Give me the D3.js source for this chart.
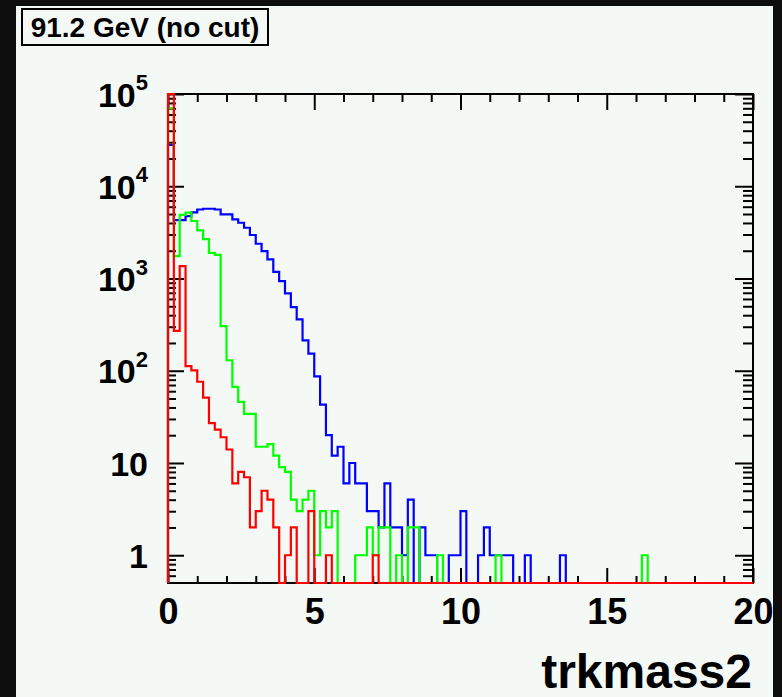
<!DOCTYPE html>
<html>
<head>
<meta charset="utf-8">
<script src="https://cdn.jsdelivr.net/npm/d3@7"></script>
<style>
  html, body { margin: 0; padding: 0; background: #0e0e0e; }
  svg { display: block; }
  text { font-family: "Liberation Sans", Arial, Helvetica, sans-serif; }
</style>
</head>
<body>
<svg id="chart" width="782" height="697"></svg>
<script>
// ---------------- data (bin contents, 100 bins of width 0.2 over 0..20) ----------------
const binWidth = 0.2;
const blueCounts = [
  28000, 4300, 4300, 4750, 5200, 5600, 5700, 5700, 5600, 4960,
  4960, 4375, 4020, 3550, 2960, 2380, 1980, 1610, 1180, 937,
  690, 490, 360, 213, 153, 87, 43, 20, 12, 15,
  6, 10, 6, 6, 3, 3, 2, 6, 2, 2,
  1, 4, 0, 2, 1, 1, 0, 0, 1, 1,
  3, 0, 0, 1, 2, 1, 1, 1, 1, 0,
  0, 1, 0, 0, 0, 0, 0, 1, 0, 0,
  0, 0, 0, 0, 0, 0, 0, 0, 0, 0,
  0, 0, 0, 0, 0, 0, 0, 0, 0, 0,
  0, 0, 0, 0, 0, 0, 0, 0, 0, 0
];
const greenCounts = [
  70000, 1750, 4900, 5170, 4200, 3330, 2670, 1900, 1800, 305,
  130, 67, 46, 34, 34, 15, 15, 16, 12, 9,
  8, 4, 3, 4, 5, 1, 3, 2, 3, 0,
  0, 0, 1, 1, 2, 1, 2, 2, 0, 1,
  0, 2, 2, 0, 0, 0, 1, 0, 0, 0,
  0, 0, 0, 0, 0, 0, 1, 0, 0, 0,
  0, 0, 0, 0, 0, 0, 0, 0, 0, 0,
  0, 0, 0, 0, 0, 0, 0, 0, 0, 0,
  0, 1, 0, 0, 0, 0, 0, 0, 0, 0,
  0, 0, 0, 0, 0, 0, 0, 0, 0, 0
];
const redCounts = [
  200000, 270, 1360, 112, 101, 76, 51, 27, 23, 19,
  14, 6, 8, 7, 2, 3, 5, 4, 2, 0,
  1, 2, 0, 0, 3, 0, 0, 1, 0, 0,
  0, 0, 0, 0, 0, 1, 0, 0, 0, 0,
  0, 0, 0, 0, 0, 0, 0, 0, 0, 0,
  0, 0, 0, 0, 0, 0, 0, 0, 0, 0,
  0, 0, 0, 0, 0, 0, 0, 0, 0, 0,
  0, 0, 0, 0, 0, 0, 0, 0, 0, 0,
  0, 0, 0, 0, 0, 0, 0, 0, 0, 0,
  0, 0, 0, 0, 0, 0, 0, 0, 0, 0
];
const seriesNames = ["blue", "green", "red"];
const seriesColors = ["#0000ff", "#00ff00", "#ff0000"];
const xDomain = [0, 20];
const yDomain = [0.5, 1e5];
const xMajorTicks = [0, 5, 10, 15, 20];
const xMinorTicks = [1, 2, 3, 4, 6, 7, 8, 9, 11, 12, 13, 14, 16, 17, 18, 19];
const yMajorTicks = [1, 10, 100, 1000, 10000, 100000];
const yMajorLabels = ["1", "10", "10^2", "10^3", "10^4", "10^5"];
const yMinorTicks = [0.6, 0.7, 0.8, 0.9,
  2, 3, 4, 5, 6, 7, 8, 9,
  20, 30, 40, 50, 60, 70, 80, 90,
  200, 300, 400, 500, 600, 700, 800, 900,
  2000, 3000, 4000, 5000, 6000, 7000, 8000, 9000,
  20000, 30000, 40000, 50000, 60000, 70000, 80000, 90000];
const titleText = "91.2 GeV (no cut)";
const xTitle = "trkmass2";

// ---------------- layout ----------------
const W = 782, H = 697;
const canvasColor = "#f5f9f6";
const plot = { left: 168, right: 753, top: 94, bottom: 583 };

const svg = d3.select("#chart");
svg.append("rect").attr("x", 0).attr("y", 0).attr("width", W).attr("height", H).attr("fill", "#0e0e0e");
svg.append("rect").attr("x", 16).attr("y", 6).attr("width", 757).attr("height", H - 6).attr("fill", canvasColor);

const x = d3.scaleLinear().domain(xDomain).range([plot.left, plot.right]);
const y = d3.scaleLog().domain(yDomain).range([plot.bottom, plot.top]).clamp(true);

// ---------------- axes (ticks inside the frame, ROOT style) ----------------
function styleAxis(g) {
  g.select(".domain").remove();
  g.selectAll(".tick line").attr("stroke", "#000").attr("stroke-width", 2);
}
const axes = svg.append("g");
// bottom
axes.append("g").attr("transform", `translate(0,${plot.bottom})`)
  .call(d3.axisBottom(x).tickValues(xMinorTicks).tickSize(-7).tickFormat(""))
  .call(styleAxis);
const xLab = axes.append("g").attr("transform", `translate(0,${plot.bottom})`)
  .call(d3.axisBottom(x).tickValues(xMajorTicks).tickSize(-15).tickPadding(15).tickFormat(d3.format("d")))
  .call(styleAxis);
xLab.selectAll("text").attr("fill", "#000").attr("font-size", 36).attr("font-weight", "bold")
  .attr("font-family", "Liberation Sans, Arial, sans-serif");
// top
axes.append("g").attr("transform", `translate(0,${plot.top})`)
  .call(d3.axisTop(x).tickValues(xMinorTicks).tickSize(-8).tickFormat(""))
  .call(styleAxis);
axes.append("g").attr("transform", `translate(0,${plot.top})`)
  .call(d3.axisTop(x).tickValues(xMajorTicks).tickSize(-16).tickFormat(""))
  .call(styleAxis);
// left
axes.append("g").attr("transform", `translate(${plot.left},0)`)
  .call(d3.axisLeft(y).tickValues(yMinorTicks).tickSize(-8).tickFormat(""))
  .call(styleAxis);
const yLab = axes.append("g").attr("transform", `translate(${plot.left},0)`)
  .call(d3.axisLeft(y).tickValues(yMajorTicks).tickSize(-16).tickPadding(20)
        .tickFormat((d, i) => yMajorLabels[i]))
  .call(styleAxis);
yLab.selectAll("text").each(function(d, i) {
  const t = d3.select(this);
  const lab = yMajorLabels[i];
  t.text(null).attr("fill", "#000").attr("font-weight", "bold")
    .attr("font-family", "Liberation Sans, Arial, sans-serif")
    .attr("font-size", 34).attr("dy", "0.36em");
  if (lab.includes("^")) {
    const [base, exp] = lab.split("^");
    t.append("tspan").text(base);
    t.append("tspan").attr("font-size", 22).attr("dy", "-0.75em").text(exp);
  } else {
    t.append("tspan").text(lab);
  }
});
// right
axes.append("g").attr("transform", `translate(${plot.right},0)`)
  .call(d3.axisRight(y).tickValues(yMinorTicks).tickSize(-10).tickFormat(""))
  .call(styleAxis);
axes.append("g").attr("transform", `translate(${plot.right},0)`)
  .call(d3.axisRight(y).tickValues(yMajorTicks).tickSize(-18).tickFormat(""))
  .call(styleAxis);

// frame
svg.append("rect")
  .attr("x", x(xDomain[0])).attr("y", y(yDomain[1]))
  .attr("width", x(xDomain[1]) - x(xDomain[0]))
  .attr("height", y(yDomain[0]) - y(yDomain[1]))
  .attr("fill", "none").attr("stroke", "#000").attr("stroke-width", 2);

// ---------------- histograms (step outlines) ----------------
function stepPoints(counts) {
  const floor = yDomain[0];
  const pts = [[0, floor]];
  counts.forEach((v, i) => {
    const val = v > 0 ? v : floor;
    pts.push([i * binWidth, val]);
    pts.push([(i + 1) * binWidth, val]);
  });
  pts.push([counts.length * binWidth, floor]);
  return pts;
}
const line = d3.line().x(d => x(d[0])).y(d => y(d[1]));
const allCounts = [blueCounts, greenCounts, redCounts];
const clipId = "plotclip";
svg.append("clipPath").attr("id", clipId).append("rect")
  .attr("x", plot.left - 2).attr("y", plot.top - 2)
  .attr("width", plot.right - plot.left + 4).attr("height", plot.bottom - plot.top + 4);
svg.append("g").attr("clip-path", `url(#${clipId})`)
  .selectAll("path").data(allCounts).join("path")
  .attr("d", d => line(stepPoints(d)))
  .attr("fill", "none")
  .attr("stroke", (d, i) => seriesColors[i])
  .attr("stroke-width", 2.2)
  .attr("stroke-linejoin", "miter");

// ---------------- texts ----------------
svg.append("rect").attr("x", 22).attr("y", 9).attr("width", 246).attr("height", 36)
  .attr("fill", canvasColor).attr("stroke", "#000").attr("stroke-width", 2);
svg.append("text").attr("x", 145).attr("y", 37).attr("text-anchor", "middle")
  .attr("font-size", 28).attr("font-weight", "bold").attr("fill", "#000")
  .text(titleText);
svg.append("text").attr("x", 752).attr("y", 688).attr("text-anchor", "end")
  .attr("font-size", 48).attr("font-weight", "bold").attr("fill", "#000")
  .text(xTitle);
</script>
</body>
</html>
